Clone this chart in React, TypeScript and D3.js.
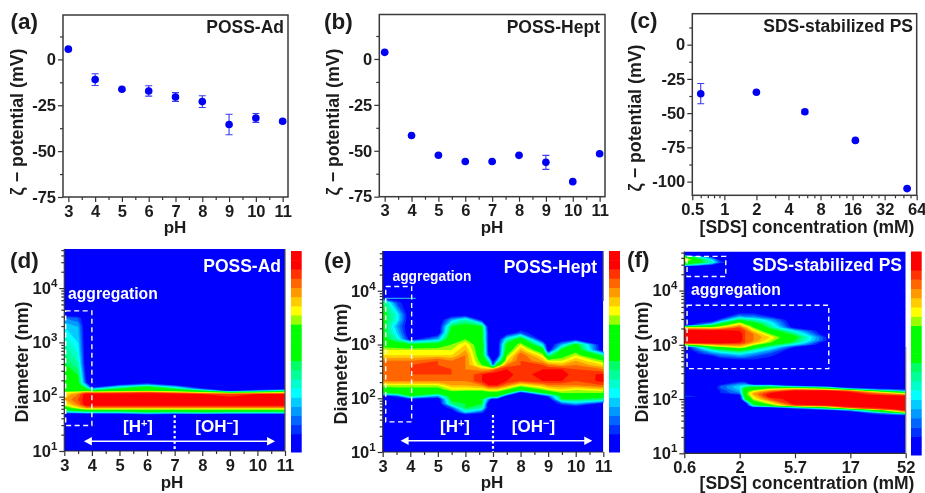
import React, { useRef, useEffect } from 'react';
import * as d3 from 'd3';

const FONT = '"Liberation Sans", Arial, sans-serif';
const INK = '#1c1c1c';
const BLUE = '#0000f5';

// zeta potential panels
const phValues = [3, 4, 5, 6, 7, 8, 9, 10, 11];
const zetaAd = [5.6, -11, -16.3, -17.2, -20.5, -23, -35.5, -31.9, -33.7];
const errAd = [0.5, 3.2, 0.6, 2.8, 2.4, 3.2, 5.6, 2.4, 0.8];
const zetaHept = [3.6, -41.7, -52.4, -55.8, -55.8, -52.5, -56.3, -66.8, -51.6];
const errHept = [0.3, 0.5, 0.5, 0.5, 0.5, 0.5, 3.8, 0.5, 0.5];
const sdsConc = [0.6, 2, 5.7, 17, 52];
const zetaSds = [-35.8, -34.8, -49, -69.9, -105.1];
const errSds = [7.4, 0.5, 1.5, 0.5, 0.5];
const zetaTicksAB = [0, -25, -50, -75];
const zetaMinorAB = [12.5, -12.5, -37.5, -62.5];
const zetaTicksC = [0, -25, -50, -75, -100];
const zetaMinorC = [12.5, -12.5, -37.5, -62.5, -87.5];
const sdsTicks = [0.5, 1, 2, 4, 8, 16, 32, 64];
const sdsMinor = [0.6, 0.7, 0.8, 0.9, 3, 5, 6, 7, 10, 12, 14, 20, 24, 28, 40, 48, 56];

// colour levels of the size maps, bottom to top of the colour bar
const levelColors = [
  '#0000ff', '#0000ff', '#0033ff', '#0066ff', '#0099ff', '#00ccff', '#00ffff', '#00ffcc',
  '#00ff99', '#00ff66', '#00ff00', '#00ff00', '#00ff00', '#00ff00', '#99ff00', '#ffff00',
  '#ffcc00', '#ff9900', '#ff6600', '#ff3300', '#ff0000', '#ff0000',
];

// panel d: level per log10(diameter) row and pH column
const colsD = [3, 3.5, 3.8, 4, 5, 6, 7, 8, 9, 10, 11];
const rowsD = [1, 1.64, 1.68, 1.71, 1.75, 1.8, 1.85, 1.95, 2.05, 2.08, 2.11, 2.14, 2.18, 2.22, 2.26, 2.4, 2.62, 3, 3.29, 3.45, 3.52, 4.72];
const gridD = [
  [0, 0, 0, 0, 0, 0, 0, 0, 0, 0, 0],
  [0, 0, 0, 0, 0, 0, 0, 0, 0, 0, 0],
  [0, 0, 0, 0, 1, 3, 2, 2, 2, 2, 1],
  [5, 6, 7, 7, 7, 9, 8, 9, 8, 8, 8],
  [10, 12, 13, 13, 13, 13, 13, 13, 13, 13, 13],
  [13, 16, 18, 18, 18, 18, 18, 18, 18, 18, 18],
  [15, 18, 21, 21, 21, 21, 21, 21, 21, 21, 21],
  [17, 19, 21, 21, 21, 21, 21, 21, 21, 21, 21],
  [16, 18, 21, 21, 21, 21, 21, 20, 19, 20, 20],
  [15, 16, 18, 17, 18, 19, 17, 15, 12, 13, 15],
  [13, 13, 13, 11, 13, 14, 13, 10, 1, 5, 8],
  [13, 13, 11, 6, 11, 13, 10, 3, 0, 0, 1],
  [13, 13, 8, 1, 7, 11, 6, 0, 0, 0, 0],
  [13, 12, 5, 0, 2, 5, 1, 0, 0, 0, 0],
  [14, 11, 2, 0, 0, 1, 0, 0, 0, 0, 0],
  [14, 10, 1, 0, 0, 0, 0, 0, 0, 0, 0],
  [10, 8, 0, 0, 0, 0, 0, 0, 0, 0, 0],
  [8, 6, 0, 0, 0, 0, 0, 0, 0, 0, 0],
  [6, 5, 0, 0, 0, 0, 0, 0, 0, 0, 0],
  [4, 3, 0, 0, 0, 0, 0, 0, 0, 0, 0],
  [0, 0, 0, 0, 0, 0, 0, 0, 0, 0, 0],
  [0, 0, 0, 0, 0, 0, 0, 0, 0, 0, 0],
];

// panel e
const colsE = [3, 3.5, 4, 5, 5.5, 6, 6.6, 6.85, 7, 7.15, 7.5, 8, 8.8, 9, 9.5, 10, 11];
const rowsE = [1, 1.68, 1.74, 1.82, 1.9, 1.98, 2.04, 2.1, 2.16, 2.24, 2.32, 2.44, 2.54, 2.62, 2.7, 2.8, 2.9, 3, 3.1, 3.22, 3.34, 3.46, 3.56, 3.78, 3.88, 4.74];
const gridE = [
  [0, 0, 0, 0, 0, 0, 0, 0, 0, 0, 0, 0, 0, 0, 0, 0, 0],
  [0, 0, 0, 0, 0, 0, 0, 0, 0, 0, 0, 0, 0, 0, 0, 0, 0],
  [0, 0, 0, 0, 0, 6, 3, 0, 0, 0, 0, 0, 0, 0, 0, 0, 0],
  [0, 0, 0, 0, 3, 10, 8, 0, 0, 0, 0, 0, 0, 0, 0, 0, 0],
  [0, 0, 0, 0, 9, 10, 10, 0, 0, 0, 0, 0, 0, 0, 3, 5, 1],
  [0, 0, 1, 0, 11, 10, 10, 4, 0, 1, 0, 0, 0, 0, 10, 10, 9],
  [1, 3, 10, 5, 12, 11, 11, 11, 11, 11, 1, 0, 1, 3, 11, 11, 11],
  [10, 11, 11, 11, 13, 12, 12, 13, 13, 13, 11, 0, 10, 12, 14, 14, 14],
  [12, 13, 13, 13, 15, 15, 15, 16, 16, 16, 14, 11, 14, 15, 16, 15, 16],
  [15, 15, 15, 15, 17, 17, 18, 20, 20, 20, 18, 15, 17, 18, 18, 18, 19],
  [18, 18, 18, 18, 18, 18, 20, 21, 21, 21, 20, 19, 20, 20, 20, 19, 20.4],
  [18, 18, 19, 19, 19, 18, 20, 21, 21, 21, 21, 19, 21, 21, 21, 19, 20.4],
  [18, 18, 19, 19, 19, 18, 17, 17, 18, 19, 20, 19, 20, 20, 20, 19, 18],
  [18, 18, 19, 19, 18, 18, 14, 12, 3, 12, 18, 19, 19, 18, 17, 18, 16],
  [18, 18, 18, 19, 18, 18, 13, 8, 1, 5, 16, 19, 17, 15, 15, 17, 14],
  [16, 16, 16, 16, 16, 18, 12, 2, 0, 0, 14, 19, 15, 8, 13, 15, 9],
  [15, 15, 15, 15, 15, 17, 12, 1, 0, 0, 12, 17, 12, 0, 11, 13, 0],
  [13, 12, 11, 12, 14, 16, 12, 1, 0, 0, 11, 15, 6, 0, 5, 11, 0],
  [11, 8, 1, 5, 13, 14, 11, 1, 0, 0, 7, 12, 0, 0, 0, 1, 0],
  [11, 6, 0, 0, 12, 12, 11, 1, 0, 0, 0, 3, 0, 0, 0, 0, 0],
  [11, 5, 0, 0, 10, 11, 10, 0, 0, 0, 0, 0, 0, 0, 0, 0, 0],
  [11, 7, 0, 0, 5, 8, 1, 0, 0, 0, 0, 0, 0, 0, 0, 0, 0],
  [11, 7, 0, 0, 0, 0, 0, 0, 0, 0, 0, 0, 0, 0, 0, 0, 0],
  [10, 3, 0, 0, 0, 0, 0, 0, 0, 0, 0, 0, 0, 0, 0, 0, 0],
  [0, 0, 0, 0, 0, 0, 0, 0, 0, 0, 0, 0, 0, 0, 0, 0, 0],
  [0, 0, 0, 0, 0, 0, 0, 0, 0, 0, 0, 0, 0, 0, 0, 0, 0],
];

// panel f: columns are positions on the evenly spaced concentration axis
const concLabels = ['0.6', '2', '5.7', '17', '52'];
const colsF = [0, 0.5, 0.65, 1, 1.1, 1.25, 1.55, 2, 2.57, 3, 4];
const rowsF = [1, 1.68, 1.72, 1.76, 1.8, 1.84, 1.88, 1.92, 2, 2.05, 2.08, 2.11, 2.15, 2.2, 2.24, 2.28, 2.34, 2.42, 2.68, 2.73, 2.78, 2.84, 2.9, 2.96, 3, 3.04, 3.08, 3.14, 3.2, 3.26, 3.32, 3.36, 3.4, 3.46, 3.52, 3.58, 3.62, 4.44, 4.47, 4.52, 4.57, 4.62, 4.66, 4.72];
const gridF = [
  [0, 0, 0, 0, 0, 0, 0, 0, 0, 0, 0],
  [0, 0, 0, 0, 0, 0, 0, 0, 0, 0, 0],
  [0, 0, 0, 0, 0, 0, 0, 0, 0, 0, 5],
  [0, 0, 0, 0, 0, 0, 0, 0, 0, 0, 17],
  [0, 0, 0, 0, 0, 0, 0, 0, 2, 6, 21],
  [0, 0, 0, 0, 0, 0, 0, 5, 12, 19, 21],
  [0, 0, 0, 0, 0, 8, 13, 19, 20, 21, 21],
  [0, 0, 0, 0, 0, 12, 15, 21, 21, 21, 21],
  [0, 0, 0, 0, 10, 15, 19, 21, 21, 21, 21],
  [3, 1, 0, 0, 12, 16, 21, 21, 21, 21, 21],
  [1, 2, 1, 2, 13, 17, 21, 21, 21, 21, 18],
  [0, 1, 2, 4, 13, 17, 20, 21, 21, 21, 14],
  [0, 0, 2, 5, 13, 15, 18, 21, 21, 19, 5],
  [0, 0, 3, 6, 11, 12, 14, 15, 12, 3, 0],
  [0, 0, 3, 6, 7, 8, 8, 3, 0, 0, 0],
  [0, 0, 1, 4, 4, 0, 0, 0, 0, 0, 0],
  [0, 0, 0, 1, 1, 0, 0, 0, 0, 0, 0],
  [0, 0, 0, 0, 0, 0, 0, 0, 0, 0, 0],
  [0, 0, 0, 0, 0, 0, 0, 0, 0, 0, 0],
  [0, 0, 1, 2, 2, 2, 1, 0, 0, 0, 0],
  [0, 1, 3, 4, 4, 3, 2, 0, 0, 0, 0],
  [0, 4, 5, 7, 6, 5, 3, 0, 0, 0, 0],
  [0, 7, 9, 11, 10, 8, 5, 0, 0, 0, 0],
  [0, 13, 14, 16, 15, 12, 8, 2, 0, 0, 0],
  [13, 17, 18, 18, 17, 15, 11, 6, 0, 0, 0],
  [21, 21, 21, 20, 19, 17, 14, 9, 0, 0, 0],
  [21, 21, 21, 21, 19, 18, 15, 10, 2, 0, 0],
  [21, 21, 21, 21, 19, 18, 16, 11, 2, 0, 0],
  [21, 21, 21, 21, 19, 18, 14, 9, 0, 0, 0],
  [21, 21, 21, 20, 19, 16, 12, 6, 0, 0, 0],
  [16, 15, 16, 19, 17, 14, 9, 1, 0, 0, 0],
  [0, 10, 13, 17, 15, 13, 8, 0, 0, 0, 0],
  [0, 4, 9, 15, 13, 11, 7, 0, 0, 0, 0],
  [0, 0, 3, 10, 9, 8, 5, 0, 0, 0, 0],
  [0, 0, 0, 5, 4, 4, 2, 0, 0, 0, 0],
  [0, 0, 0, 2, 2, 2, 1, 0, 0, 0, 0],
  [0, 0, 0, 0, 0, 0, 0, 0, 0, 0, 0],
  [0, 0, 0, 0, 0, 0, 0, 0, 0, 0, 0],
  [9, 2, 0, 0, 0, 0, 0, 0, 0, 0, 0],
  [14, 8, 3, 0, 0, 0, 0, 0, 0, 0, 0],
  [17, 6, 1, 0, 0, 0, 0, 0, 0, 0, 0],
  [13, 2, 0, 0, 0, 0, 0, 0, 0, 0, 0],
  [0, 0, 0, 0, 0, 0, 0, 0, 0, 0, 0],
  [0, 0, 0, 0, 0, 0, 0, 0, 0, 0, 0],
];

const diameterTicks = [1, 2, 3, 4];
const diameterMinor = [10, 100, 1000, 10000]
  .flatMap((d) => [2, 3, 4, 5, 6, 7, 8, 9].map((m) => Math.log10(d * m)))
  .filter((v) => v < 4.7);
const halfSteps = [3.5, 4.5, 5.5, 6.5, 7.5, 8.5, 9.5, 10.5];
const phTicks = [3, 4, 5, 6, 7, 8, 9, 10, 11];

type Sel = d3.Selection<any, any, any, any>;

const addText = (g: Sel, str: string, x: number, y: number, size: number, anchor = 'start', fill = INK) =>
  g
    .append('text')
    .attr('x', x)
    .attr('y', y)
    .attr('font-family', FONT)
    .attr('font-weight', 700)
    .attr('font-size', size)
    .attr('text-anchor', anchor)
    .attr('fill', fill)
    .text(str);

const addVertical = (g: Sel, str: string, x: number, y: number, size: number) =>
  addText(g, str, 0, 0, size, 'middle').attr('transform', `translate(${x},${y}) rotate(-90)`);

// major and minor ticks on one axis, styled like the figure
const drawAxis = (
  g: Sel,
  axis: any,
  scale: any,
  major: number[],
  minor: number[],
  pos: string,
  format: (d: number) => string,
  padding: number,
) => {
  const minorG = g.append('g').attr('transform', pos);
  minorG.call(axis(scale).tickValues(minor).tickSize(3).tickFormat(() => ''));
  minorG.selectAll('text').remove();
  const majorG = g.append('g').attr('transform', pos);
  majorG.call(axis(scale).tickValues(major).tickSize(5).tickPadding(padding).tickFormat(format));
  [minorG, majorG].forEach((a) => {
    a.select('.domain').remove();
    a.selectAll('line').attr('stroke', '#333').attr('stroke-width', 1.2);
  });
  majorG
    .selectAll('text')
    .attr('font-family', FONT)
    .attr('font-weight', 700)
    .attr('font-size', 16.5)
    .attr('fill', INK);
};

const drawScatter = (
  svg: Sel,
  xs: number[],
  ys: number[],
  errs: number[],
  x: any,
  frame: number[],
  yDomain: number[],
  yTicks: number[],
  yMinor: number[],
  xTicks: number[],
  xMinor: number[],
) => {
  const [left, right, top, bottom] = frame;
  const y = d3.scaleLinear().domain(yDomain).range([bottom, top]);
  drawAxis(svg, d3.axisBottom, x, xTicks, xMinor, `translate(0,${bottom})`, (d) => String(d), 3);
  drawAxis(svg, d3.axisLeft, y, yTicks, yMinor, `translate(${left},0)`, (d) => String(d), 2);
  svg
    .append('rect')
    .attr('x', left)
    .attr('y', top)
    .attr('width', right - left)
    .attr('height', bottom - top)
    .attr('fill', 'none')
    .attr('stroke', '#3a3a3a')
    .attr('stroke-width', 1.5);
  xs.forEach((v, i) => {
    const cx = x(v);
    const hi = y(ys[i] + errs[i]);
    const lo = y(ys[i] - errs[i]);
    const path = d3.path();
    path.moveTo(cx, hi);
    path.lineTo(cx, lo);
    path.moveTo(cx - 3.5, hi);
    path.lineTo(cx + 3.5, hi);
    path.moveTo(cx - 3.5, lo);
    path.lineTo(cx + 3.5, lo);
    svg.append('path').attr('d', path.toString()).attr('fill', 'none').attr('stroke', '#3a3af5').attr('stroke-width', 1.1);
    svg.append('circle').attr('cx', cx).attr('cy', y(ys[i])).attr('r', 3.8).attr('fill', BLUE);
  });
};

const drawHeat = (
  svg: Sel,
  id: string,
  cols: number[],
  rows: number[],
  grid: number[][],
  x: any,
  frame: number[],
  yTop: number,
  bar: number[],
) => {
  const [left, right, top, bottom] = frame;
  const y = d3.scaleLinear().domain([1, yTop]).range([bottom, top]);
  // contour coordinates are grid cells: sample i sits at i + 0.5
  const colAt = d3.scaleLinear().domain(d3.range(cols.length)).range(cols);
  const rowAt = d3.scaleLinear().domain(d3.range(rows.length)).range(rows);
  const project = d3.geoTransform({
    point(px: number, py: number) {
      (this as any).stream.point(x(colAt(px - 0.5)), y(rowAt(py - 0.5)));
    },
  });
  const geo = d3.geoPath(project);
  const contours = d3
    .contours()
    .size([cols.length, rows.length])
    .thresholds(d3.range(2, 21))(grid.flat());

  svg
    .append('clipPath')
    .attr('id', id)
    .append('rect')
    .attr('x', left)
    .attr('y', top)
    .attr('width', right - left)
    .attr('height', bottom - top);

  const map = svg.append('g').attr('clip-path', `url(#${id})`);
  map
    .append('rect')
    .attr('x', left)
    .attr('y', top)
    .attr('width', right - left)
    .attr('height', bottom - top)
    .attr('fill', levelColors[0]);
  contours.forEach((c: any) => {
    map.append('path').attr('d', geo(c)).attr('fill', levelColors[c.value]);
  });

  // colour bar
  const band = d3.scaleBand<number>().domain(d3.range(levelColors.length)).range([bar[3], bar[2]]);
  levelColors.forEach((color, i) => {
    svg
      .append('rect')
      .attr('x', bar[0])
      .attr('y', band(i))
      .attr('width', bar[1] - bar[0])
      .attr('height', band.bandwidth() + 0.5)
      .attr('fill', color);
  });

  svg.append('line').attr('x1', left).attr('x2', left).attr('y1', top).attr('y2', bottom).attr('stroke', '#333').attr('stroke-width', 1.2);
  svg.append('line').attr('x1', left).attr('x2', right).attr('y1', bottom).attr('y2', bottom).attr('stroke', '#333').attr('stroke-width', 1.2);
  return y;
};

const dashedBox = (g: Sel, x0: number, x1: number, y0: number, y1: number) =>
  g
    .append('rect')
    .attr('x', Math.min(x0, x1))
    .attr('y', Math.min(y0, y1))
    .attr('width', Math.abs(x1 - x0))
    .attr('height', Math.abs(y1 - y0))
    .attr('fill', 'none')
    .attr('stroke', '#fff')
    .attr('stroke-width', 1.4)
    .attr('stroke-dasharray', '5 3.5');

// the [H+] / [OH-] arrow with the dotted neutral line
const drawIonArrow = (g: Sel, x: any, y: any, from: number, to: number, at: number, dotTop: number, labelY: number, hx: number, ohx: number) => {
  const ay = y(at);
  g.append('line').attr('x1', x(from) + 6).attr('x2', x(to) - 6).attr('y1', ay).attr('y2', ay).attr('stroke', '#fff').attr('stroke-width', 1.6);
  [
    [x(from), 1],
    [x(to), -1],
  ].forEach(([tip, dir]) => {
    g.append('path')
      .attr('d', `M${tip},${ay}l${dir * 8},-4.2v8.4z`)
      .attr('fill', '#fff');
  });
  g.append('line')
    .attr('x1', x(7))
    .attr('x2', x(7))
    .attr('y1', y(dotTop))
    .attr('y2', y(1))
    .attr('stroke', '#fff')
    .attr('stroke-width', 2.2)
    .attr('stroke-dasharray', '2.6 2.6');
  const ion = (cx: number, head: string, sup: string) => {
    const t = addText(g, head, cx, labelY, 17, 'middle', '#fff');
    t.append('tspan').attr('dy', -5).attr('font-size', 11).text(sup);
    t.append('tspan').attr('dy', 5).text(']');
  };
  ion(hx, '[H', '+');
  ion(ohx, '[OH', '\u2212');
};

const App = () => {
  const ref = useRef<SVGSVGElement>(null);

  useEffect(() => {
    const root = d3.select(ref.current) as Sel;
    root.selectAll('*').remove();

    // the source figure is a slightly soft raster
    root
      .append('defs')
      .append('filter')
      .attr('id', 'soft')
      .attr('filterUnits', 'userSpaceOnUse')
      .attr('x', 0)
      .attr('y', 0)
      .attr('width', 925)
      .attr('height', 493)
      .append('feGaussianBlur')
      .attr('stdDeviation', 0.45);
    const svg = root.append('g').attr('filter', 'url(#soft)') as Sel;

    // top row
    const xA = d3.scaleLinear().domain([2.8, 11.2]).range([63, 288]);
    drawScatter(svg, phValues, zetaAd, errAd, xA, [63, 288, 15, 197], [-75, 24.2], zetaTicksAB, zetaMinorAB, phTicks, halfSteps);
    addText(svg, '(a)', 10.5, 29, 22.5);
    addText(svg, 'POSS-Ad', 284, 33, 17.5, 'end');
    addVertical(svg, '\u03b6 \u2212 potential (mV)', 23, 122, 17.8);
    addText(svg, 'pH', 175, 233, 17, 'middle');

    const xB = d3.scaleLinear().domain([2.8, 11.2]).range([379.3, 605]);
    drawScatter(svg, phValues, zetaHept, errHept, xB, [379.3, 605, 14.5, 196.7], [-75, 24.2], zetaTicksAB, zetaMinorAB, phTicks, halfSteps);
    addText(svg, '(b)', 324, 29, 22.5);
    addText(svg, 'POSS-Hept', 600, 33, 17.5, 'end');
    addVertical(svg, '\u03b6 \u2212 potential (mV)', 339, 122, 17.8);
    addText(svg, 'pH', 492, 233, 17, 'middle');

    const xC = d3.scaleLog().base(2).domain([0.5, 64]).range([692.3, 916.7]);
    drawScatter(svg, sdsConc, zetaSds, errSds, xC, [692.3, 916.7, 13.7, 195.3], [-110, 22.6], zetaTicksC, zetaMinorC, sdsTicks, sdsMinor);
    addText(svg, '(c)', 630, 28, 22.5);
    addText(svg, 'SDS-stabilized PS', 913, 32, 17.5, 'end');
    addVertical(svg, '\u03b6 \u2212 potential (mV)', 641, 118, 17.8);
    addText(svg, '[SDS] concentration (mM)', 807, 233, 17.5, 'middle');

    // bottom row
    const power = (g: Sel) =>
      g.selectAll('.tick text').each(function (d: any) {
        const t = d3.select(this as any);
        t.text('10');
        t.append('tspan').attr('dy', -7).attr('font-size', 11.5).text(d);
      });

    const xD = d3.scaleLinear().domain([3, 11]).range([64.3, 285]);
    const yD = drawHeat(svg, 'clipD', colsD, rowsD, gridD, xD, [64.3, 285, 249, 451], 4.72, [291, 301.7, 251, 452]);
    drawAxis(svg, d3.axisBottom, xD, phTicks, halfSteps, 'translate(0,451)', (d) => String(d), 3);
    const axD = svg.append('g');
    drawAxis(axD, d3.axisLeft, yD, diameterTicks, diameterMinor, 'translate(64.3,0)', (d) => String(d), 2);
    power(axD);
    svg.append('line').attr('x1', 285).attr('x2', 285).attr('y1', 249).attr('y2', 451).attr('stroke', '#555').attr('stroke-width', 1.2);
    dashedBox(svg, xD(3.05), xD(4), yD(3.58), yD(1.47));
    drawIonArrow(svg, xD, yD, 3.71, 10.64, 1.18, 1.66, 432, 138, 217);
    addText(svg, '(d)', 10, 268, 22.5);
    addText(svg, 'POSS-Ad', 281, 272, 17.5, 'end', '#fff');
    addText(svg, 'aggregation', 68, 299, 15.7, 'start', '#fff');
    addVertical(svg, 'Diameter (nm)', 28, 362, 18);
    addText(svg, 'pH', 172, 488, 17, 'middle');

    const xE = d3.scaleLinear().domain([3, 11]).range([382.7, 603.3]);
    const yE = drawHeat(svg, 'clipE', colsE, rowsE, gridE, xE, [382.7, 603.3, 251, 452], 4.74, [609, 620, 251, 452]);
    drawAxis(svg, d3.axisBottom, xE, phTicks, halfSteps, 'translate(0,452)', (d) => String(d), 3);
    const axE = svg.append('g');
    drawAxis(axE, d3.axisLeft, yE, diameterTicks, diameterMinor, 'translate(382.7,0)', (d) => String(d), 2);
    power(axE);
    svg.append('line').attr('x1', 603.3).attr('x2', 603.3).attr('y1', 251).attr('y2', 301).attr('stroke', '#777').attr('stroke-width', 1.2);
    svg.append('line').attr('x1', xE(3.1)).attr('x2', xE(4.2)).attr('y1', yE(3.86)).attr('y2', yE(3.86)).attr('stroke', '#33ccdd').attr('stroke-width', 1);
    dashedBox(svg, xE(3.11), xE(4.05), yE(4.08), yE(1.56));
    drawIonArrow(svg, xE, yE, 3.65, 10.6, 1.21, 1.69, 432, 455, 533.5);
    addText(svg, '(e)', 324, 268, 22.5);
    addText(svg, 'POSS-Hept', 597, 272.5, 17.5, 'end', '#fff');
    addText(svg, 'aggregation', 392.5, 280.5, 13.8, 'start', '#fff');
    addVertical(svg, 'Diameter (nm)', 347, 364, 18);
    addText(svg, 'pH', 492, 488, 17, 'middle');

    const xF = d3.scaleLinear().domain([0, 4]).range([684.3, 905.7]);
    const yF = drawHeat(svg, 'clipF', colsF, rowsF, gridF, xF, [684.3, 905.7, 251.5, 453.3], 4.72, [911, 921.7, 251.5, 455]);
    const axF = svg.append('g');
    drawAxis(axF, d3.axisBottom, xF, [0, 1, 2, 3, 4], [], 'translate(0,453.3)', (d) => concLabels[d], 3);
    const axFy = svg.append('g');
    drawAxis(axFy, d3.axisLeft, yF, diameterTicks, diameterMinor, 'translate(684.3,0)', (d) => String(d), 2);
    power(axFy);
    svg.append('line').attr('x1', 905.7).attr('x2', 905.7).attr('y1', 347).attr('y2', 453).attr('stroke', '#777').attr('stroke-width', 1.2);
    dashedBox(svg, xF(0.05), xF(0.75), yF(4.63), yF(4.26));
    dashedBox(svg, xF(0.05), xF(2.61), yF(3.73), yF(2.56));
    addText(svg, '(f)', 627, 267, 22.5);
    addText(svg, 'SDS-stabilized PS', 902, 271, 17.5, 'end', '#fff');
    addText(svg, 'aggregation', 691, 295, 15.7, 'start', '#fff');
    addVertical(svg, 'Diameter (nm)', 648, 362, 18);
    addText(svg, '[SDS] concentration (mM)', 807, 489, 17.5, 'middle');
  }, []);

  return <svg ref={ref} width={925} height={493} style={{ position: 'absolute', left: 0, top: 0, background: '#fff' }} />;
};

export default App;
